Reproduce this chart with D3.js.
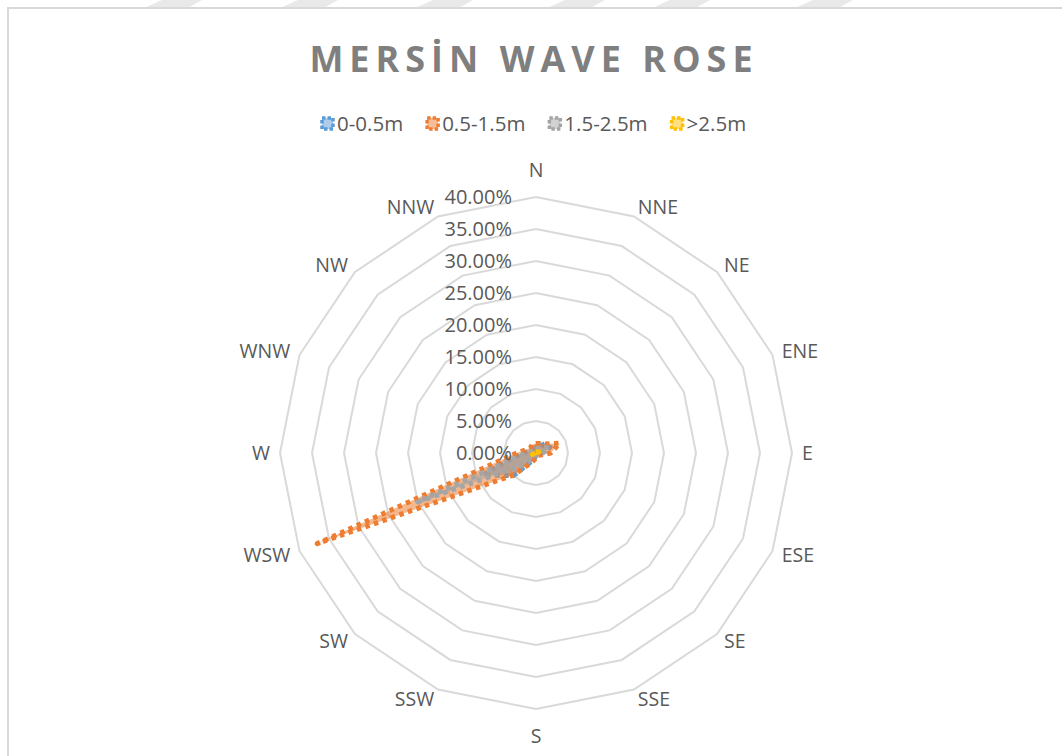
<!DOCTYPE html>
<html>
<head>
<meta charset="utf-8">
<script src="https://cdn.jsdelivr.net/npm/d3@7"></script>
<style>
  body { margin: 0; background: #fff; }
  svg { display: block; font-family: "Open Sans", sans-serif; }
  .ring { fill: none; stroke: #d9d9d9; stroke-width: 2; }
  .tick-label, .dir-label, .legend-label { fill: #595959; }
</style>
</head>
<body>
<svg width="1062" height="756"></svg>
<script>
// chart data (percent of time per direction)
const directions = ["N", "NNE", "NE", "ENE", "E", "ESE", "SE", "SSE",
                    "S", "SSW", "SW", "WSW", "W", "WNW", "NW", "NNW"];
const tickValues = [0, 5, 10, 15, 20, 25, 30, 35, 40];
const seriesNames = ["0-0.5m", "0.5-1.5m", "1.5-2.5m", ">2.5m"];
const colors = ["#5b9bd5", "#ed7d31", "#a5a5a5", "#ffc000"];

const wave0 = [0.8, 1.9, 1.6, 2.4, 1.0, 0.3, 0.2, 0.2, 0.4, 1.2, 5.0, 9.0, 2.0, 0.8, 0.6, 0.8];
const wave1 = [1.5, 1.6, 2.0, 4.0, 2.3, 0.8, 0.5, 0.5, 0.8, 1.5, 4.8, 37.0, 3.0, 1.5, 1.2, 1.5];
const wave2 = [0.5, 0.8, 1.2, 2.2, 1.0, 0.3, 0.2, 0.2, 0.3, 0.8, 2.5, 20.0, 1.5, 0.6, 0.4, 0.4];
const wave3 = [0.1, 0.1, 0.2, 0.5, 0.2, 0.0, 0.0, 0.0, 0.0, 0.1, 0.2, 0.6, 0.2, 0.1, 0.0, 0.1];
const seriesValues = [wave0, wave1, wave2, wave3];

const svg = d3.select("svg");
const cx = 536, cy = 453;

// faint watermark stripes behind the chart frame
const stripes = [142, 278, 413, 545, 650, 793];
svg.append("g").selectAll("path")
  .data(stripes)
  .enter().append("path")
    .attr("d", x => `M${x},9 L${x + 20},0 L${x + 60},0 L${x + 44},9 Z`)
    .attr("fill", "#e9e9e9");

// chart frame
svg.append("rect")
  .attr("x", 8).attr("y", 8)
  .attr("width", 1070).attr("height", 770)
  .attr("fill", "#fff")
  .attr("stroke", "#d9d9d9")
  .attr("stroke-width", 2);

// title
svg.append("text")
  .attr("x", 534).attr("y", 72)
  .attr("text-anchor", "middle")
  .attr("font-size", 36)
  .attr("font-weight", "bold")
  .attr("letter-spacing", 6)
  .attr("fill", "#7f7f7f")
  .text("MERSİN WAVE ROSE");

// legend
const legend = svg.append("g");
let lx = 320;
seriesNames.forEach((name, i) => {
  legend.append("rect")
    .attr("x", lx + 2).attr("y", 118)
    .attr("width", 11).attr("height", 11)
    .attr("fill", colors[i]).attr("fill-opacity", 0.5)
    .attr("stroke", colors[i])
    .attr("stroke-width", 3.5)
    .attr("stroke-dasharray", "3.5,2");
  const t = legend.append("text")
    .attr("class", "legend-label")
    .attr("x", lx + 17).attr("y", 131)
    .attr("font-size", 20.5)
    .text(name);
  lx += 17 + t.node().getComputedTextLength() + 22;
});

const rScale = d3.scaleLinear()
  .domain([0, 40])
  .range([0, 256]);

const angle = d3.scalePoint()
  .domain(directions)
  .range([0, 2 * Math.PI * (directions.length - 1) / directions.length]);

const g = svg.append("g").attr("transform", `translate(${cx},${cy})`);

// grid rings
const ringLine = d3.lineRadial()
  .angle(d => angle(d))
  .curve(d3.curveLinearClosed);

g.selectAll(".ring")
  .data(tickValues.slice(1))
  .enter().append("path")
    .attr("class", "ring")
    .attr("d", v => ringLine.radius(rScale(v))(directions));

// series: filled polygons with square-dot outline
const seriesLine = d3.lineRadial()
  .angle((d, i) => angle(directions[i]))
  .radius(d => rScale(d))
  .curve(d3.curveLinearClosed);

seriesValues.forEach((vals, i) => {
  g.append("path")
    .attr("d", seriesLine(vals))
    .attr("fill", colors[i])
    .attr("fill-opacity", 0.55)
    .attr("stroke", colors[i])
    .attr("stroke-width", 5)
    .attr("stroke-dasharray", "4.5,4.5")
    .attr("stroke-linejoin", "round");
});

// tick labels along the N axis
g.selectAll(".tick-label")
  .data(tickValues)
  .enter().append("text")
    .attr("class", "tick-label")
    .attr("x", -24)
    .attr("y", v => -rScale(v))
    .attr("dy", "0.35em")
    .attr("text-anchor", "end")
    .attr("font-size", 20)
    .text(v => v.toFixed(2) + "%");

// direction labels
const labelR = 266;
g.selectAll(".dir-label")
  .data(directions)
  .enter().append("text")
    .attr("class", "dir-label")
    .attr("font-size", 19.5)
    .each(function(d) {
      const a = angle(d);
      const s = Math.sin(a), c = Math.cos(a);
      let x = labelR * s, y = -labelR * c;
      let anchor = Math.abs(s) < 0.01 ? "middle" : (s > 0 ? "start" : "end");
      if (d === "N") y -= 17;
      if (d === "S") y += 17;
      d3.select(this)
        .attr("x", x).attr("y", y)
        .attr("dy", "0.35em")
        .attr("text-anchor", anchor)
        .text(d);
    });
</script>
</body>
</html>
